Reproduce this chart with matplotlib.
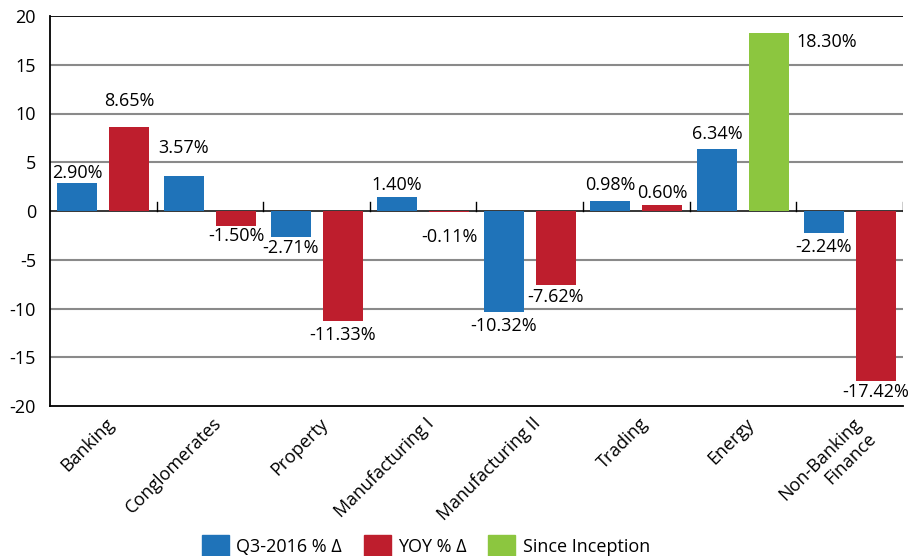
import matplotlib
matplotlib.use("Agg")
import matplotlib.pyplot as plt
from matplotlib.patches import Patch
import numpy as np

plt.rcParams["font.family"] = ["Open Sans", "DejaVu Sans"]

# ---------------- data ----------------
sectors = ["Banking", "Conglomerates", "Property", "Manufacturing I",
           "Manufacturing II", "Trading", "Energy", "Non-Banking\nFinance"]
q3_2016 = [2.90, 3.57, -2.71, 1.40, -10.32, 0.98, 6.34, -2.24]
yoy = [8.65, -1.50, -11.33, -0.11, -7.62, 0.60, None, -17.42]
since_inception = [None, None, None, None, None, None, 18.30, None]
yticks = [20, 15, 10, 5, 0, -5, -10, -15, -20]

# label distance from bar end (pixels), picked to match the original
q3_off = [10, 28, 11, 12, 14, 16, 15, 14]
yoy_off = [26, 10, 14, 25, 12, 12, 0, 11]

BLUE = "#1f73b9"
RED = "#be1e2d"
GREEN = "#8cc63f"
FS = 13

fig = plt.figure(figsize=(9.12, 5.56), dpi=100)
ax = fig.add_axes([50 / 912, 1 - 406 / 556, 853 / 912, 390 / 556])

x = np.arange(len(sectors))
w = 0.375
shift = 0.244


def put_label(xc, val, off):
    if val >= 0:
        ax.annotate(f"{val:.2f}%", (xc, val), xytext=(0, off), textcoords="offset pixels",
                    ha="center", va="center", fontsize=FS)
    else:
        ax.annotate(f"{val:.2f}%", (xc, val), xytext=(0, -off), textcoords="offset pixels",
                    ha="center", va="center", fontsize=FS)


for i in range(len(sectors)):
    ax.bar(x[i] - shift, q3_2016[i], w, color=BLUE, zorder=3)
    put_label(x[i] - shift, q3_2016[i], q3_off[i])
    if yoy[i] is not None:
        ax.bar(x[i] + shift, yoy[i], w, color=RED, zorder=3)
        put_label(x[i] + shift, yoy[i], yoy_off[i])
    if since_inception[i] is not None:
        ax.bar(x[i] + shift, since_inception[i], w, color=GREEN, zorder=3)
        ax.annotate(f"{since_inception[i]:.2f}%", (x[i] + shift + w / 2, since_inception[i]),
                    xytext=(7, -9), textcoords="offset pixels",
                    ha="left", va="center", fontsize=FS)

ax.set_xlim(-0.5, len(sectors) - 0.5)
ax.set_ylim(-20, 20)

# gridlines
for v in [15, 10, 5, -5, -10, -15]:
    ax.axhline(v, color="#8a8a8a", lw=1.5, zorder=1)
ax.axhline(0, color="black", lw=1.1, zorder=2)
ax.axhline(20, color="black", lw=1.3, zorder=4)

# small category ticks on the zero line
for b in np.arange(0.5, len(sectors), 1.0):
    ax.plot([b, b], [0, 0.9], color="black", lw=1, zorder=4)

ax.spines["right"].set_visible(False)
ax.spines["top"].set_visible(False)
for s in ["left", "bottom"]:
    ax.spines[s].set_linewidth(1.3)

ax.set_yticks(yticks)
ax.set_yticklabels([str(t) for t in yticks], fontsize=FS)
ax.tick_params(axis="y", length=0, pad=10)

ax.set_xticks(x + 0.02)
ax.set_xticklabels(sectors, rotation=45, ha="right", rotation_mode="anchor", fontsize=FS)
ax.tick_params(axis="x", length=0, pad=6)

handles = [Patch(color=BLUE, label="Q3-2016 % Δ"),
           Patch(color=RED, label="YOY % Δ"),
           Patch(color=GREEN, label="Since Inception")]
fig.legend(handles=handles, loc="upper center", bbox_to_anchor=(426 / 912, 1 - 535 / 556),
           ncol=3, frameon=False, fontsize=FS, handlelength=1.5, handleheight=1.5,
           columnspacing=1.2, handletextpad=0.4, borderpad=0, borderaxespad=0)

fig.savefig("out.png", dpi=100)
